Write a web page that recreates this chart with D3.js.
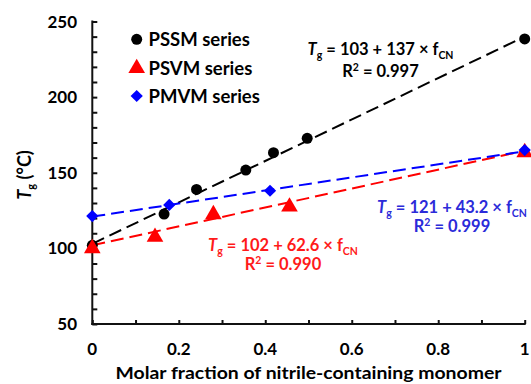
<!DOCTYPE html>
<html><head><meta charset="utf-8">
<script src="https://cdn.jsdelivr.net/npm/d3@7"></script>
<style>
html,body{margin:0;padding:0;background:#fff;}
svg{display:block;font-family:Lato,"Open Sans",sans-serif;font-weight:bold;}
</style></head>
<body>
<script>
// ---- data ----
const pssmX = [0, 0.166, 0.241, 0.355, 0.419, 0.497, 1.0];
const pssmY = [102, 122.7, 139, 151.8, 163.3, 172.8, 238.5];
const psvmX = [0, 0.145, 0.28, 0.456, 1.0];
const psvmY = [100, 107.5, 122.5, 127.5, 163.5];
const pmvmX = [0, 0.178, 0.411, 1.0];
const pmvmY = [121.4, 128.7, 138.1, 165];
const fitIntercept = [103, 102, 121];
const fitSlope = [137, 62.6, 43.2];
const fitR2 = ["0.997", "0.990", "0.999"];
const seriesNames = ["PSSM series", "PSVM series", "PMVM series"];
const xTickLabels = [0, 0.2, 0.4, 0.6, 0.8, 1];
const yTickLabels = [50, 100, 150, 200, 250];

const W = 531, H = 384;
const colors = ["#000000", "#ff0000", "#0000ff"];
const textColors = ["#000000", "#ff1a1a", "#2b2bd9"];

const svg = d3.select("body").append("svg").attr("width", W).attr("height", H);

const x = d3.scaleLinear().domain([0, 1]).range([92.3, 524.7]);
const y = d3.scaleLinear().domain([50, 250]).range([324, 21.5]);

// axes
const xAxis = d3.axisTop(x).tickValues(d3.range(0, 1.0001, 0.1)).tickSize(4).tickFormat("");
const yAxis = d3.axisRight(y).tickValues(d3.range(50, 250.001, 10)).tickSize(5).tickFormat("");
const gx = svg.append("g").attr("transform", `translate(0,${y(50)})`).call(xAxis);
const gy = svg.append("g").attr("transform", `translate(${x(0)},0)`).call(yAxis);
[gx, gy].forEach(g => {
  g.select(".domain").remove();
  g.selectAll(".tick line").attr("stroke", "#111").attr("stroke-width", 2);
});
svg.append("line").attr("x1", x(0)).attr("x2", x(1)).attr("y1", y(50)).attr("y2", y(50))
  .attr("stroke", "#111").attr("stroke-width", 2).attr("stroke-linecap", "square");
svg.append("line").attr("x1", x(0)).attr("x2", x(0)).attr("y1", y(50)).attr("y2", y(250))
  .attr("stroke", "#111").attr("stroke-width", 2).attr("stroke-linecap", "square");

// tick labels
svg.append("g").selectAll("text").data(xTickLabels).join("text")
  .attr("x", d => x(d)).attr("y", 354.5).attr("text-anchor", "middle")
  .attr("font-size", 17).text(d => d);
svg.append("g").selectAll("text").data(yTickLabels).join("text")
  .attr("x", 77).attr("y", d => y(d) + 6).attr("text-anchor", "end")
  .attr("font-size", 17).text(d => d);

// axis titles
svg.append("text").attr("x", (x(0) + x(1)) / 2).attr("y", 379).attr("text-anchor", "middle")
  .attr("font-size", 17).attr("textLength", 386).attr("lengthAdjust", "spacingAndGlyphs")
  .text("Molar fraction of nitrile-containing monomer");
const yt = svg.append("text").attr("transform", `translate(31,175) rotate(-90)`)
  .attr("text-anchor", "middle").attr("font-size", 18);
yt.append("tspan").attr("font-style", "italic").text("T");
yt.append("tspan").attr("font-size", 11).attr("dy", 4).text("g");
yt.append("tspan").attr("dy", -4).text(" (°C)");

// fit lines
const fitG = svg.append("g");
fitIntercept.forEach((b, i) => {
  fitG.append("line")
    .attr("x1", x(0)).attr("y1", y(b)).attr("x2", x(1)).attr("y2", y(b + fitSlope[i]))
    .attr("stroke", colors[i]).attr("stroke-width", 2).attr("stroke-dasharray", "13,6");
});

// markers
const sym = [d3.symbolCircle, d3.symbolTriangle, d3.symbolSquare];
const symSize = [95, 120, 75];
const symRot = [0, 0, 45];
const data = [
  pssmX.map((d, i) => [d, pssmY[i]]),
  psvmX.map((d, i) => [d, psvmY[i]]),
  pmvmX.map((d, i) => [d, pmvmY[i]])
];
[0, 1, 2].forEach(i => {
  svg.append("g").selectAll("path").data(data[i]).join("path")
    .attr("transform", d => `translate(${x(d[0])},${y(d[1])}) rotate(${symRot[i]})`)
    .attr("d", d3.symbol(sym[i], symSize[i]))
    .attr("fill", colors[i]);
});

// legend
const legY = [39.3, 68.3, 96];
seriesNames.forEach((n, i) => {
  svg.append("path").attr("transform", `translate(136.7,${legY[i]}) rotate(${symRot[i]})`)
    .attr("d", d3.symbol(sym[i], symSize[i])).attr("fill", colors[i]);
  svg.append("text").attr("x", 148.5).attr("y", legY[i] + 6.5).attr("font-size", 18.5).text(n);
});

// equations
const eqPos = [[380.5, 50, 71.7], [283, 246, 265], [452, 208.3, 227.3]];
fitIntercept.forEach((b, i) => {
  const [cx, y1, y2] = eqPos[i];
  const t = svg.append("text").attr("x", cx).attr("y", y1 + 5).attr("text-anchor", "middle")
    .attr("font-size", 16.5).attr("fill", textColors[i]);
  t.append("tspan").attr("font-style", "italic").text("T");
  t.append("tspan").attr("font-size", 10.5).attr("dy", 4).text("g");
  t.append("tspan").attr("dy", -4).text(` = ${b} + ${fitSlope[i]} × f`);
  t.append("tspan").attr("font-size", 10.5).attr("dy", 4).text("CN");
  const r = svg.append("text").attr("x", cx).attr("y", y2 + 5).attr("text-anchor", "middle")
    .attr("font-size", 16.5).attr("fill", textColors[i]);
  r.append("tspan").text("R");
  r.append("tspan").attr("font-size", 10.5).attr("dy", -6).text("2");
  r.append("tspan").attr("dy", 6).text(` = ${fitR2[i]}`);
});
</script>
</body></html>
